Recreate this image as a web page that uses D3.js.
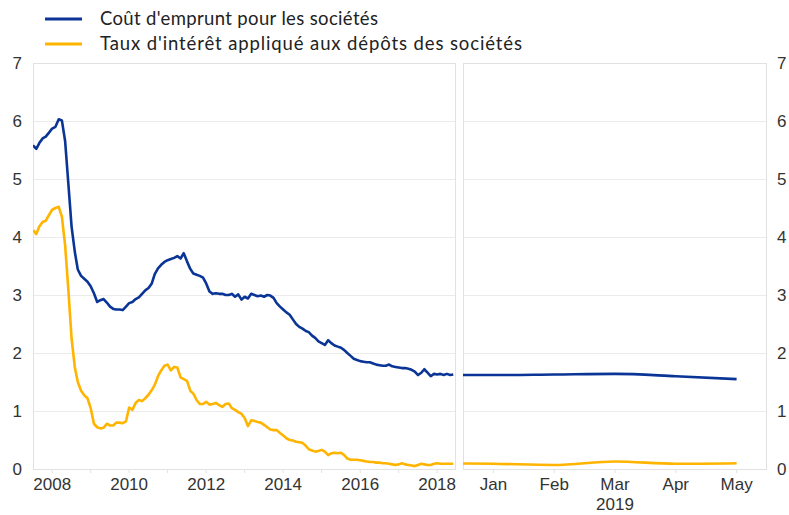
<!DOCTYPE html>
<html>
<head>
<meta charset="utf-8">
<script src="https://cdn.jsdelivr.net/npm/d3@7/dist/d3.min.js"></script>
<style>
  html, body { margin: 0; padding: 0; background: #fff; }
  svg { display: block; }
</style>
</head>
<body>
<svg id="chart" width="789" height="515"></svg>
<script>
// ---------------- DATA ----------------
const seriesNames = ["Coût d'emprunt pour les sociétés", "Taux d'intérêt appliqué aux dépôts des sociétés"];
const leftStart = "2008-01"; // monthly observations, Jan 2008 - Dec 2018
const blueLeft = [
  5.58, 5.52, 5.62, 5.70, 5.73, 5.80, 5.87, 5.90, 6.03, 6.01, 5.65, 4.93,
  4.18, 3.74, 3.44, 3.33, 3.28, 3.23, 3.15, 3.03, 2.88, 2.91, 2.93, 2.87,
  2.80, 2.76, 2.75, 2.75, 2.74, 2.80, 2.86, 2.88, 2.93, 2.96, 3.02, 3.08,
  3.12, 3.20, 3.36, 3.46, 3.52, 3.57, 3.60, 3.62, 3.64, 3.67, 3.63, 3.72,
  3.58, 3.45, 3.37, 3.35, 3.33, 3.30, 3.20, 3.06, 3.02, 3.03, 3.02, 3.02,
  3.00, 3.00, 3.02, 2.97, 3.01, 2.92, 2.97, 2.94, 3.02, 3.00, 2.98, 2.99,
  2.97, 3.00, 2.99, 2.95, 2.86, 2.80, 2.75, 2.70, 2.66, 2.58, 2.50, 2.45,
  2.42, 2.38, 2.36, 2.30, 2.26, 2.20, 2.17, 2.14, 2.22, 2.17, 2.13, 2.11,
  2.09, 2.05, 2.00, 1.95, 1.90, 1.88, 1.86, 1.85, 1.84, 1.84, 1.82, 1.80,
  1.79, 1.78, 1.78, 1.80, 1.77, 1.76, 1.75, 1.74, 1.74, 1.73, 1.71, 1.68,
  1.62, 1.66, 1.72, 1.66, 1.60, 1.64, 1.63, 1.64, 1.62, 1.64, 1.62, 1.63
];
const yellowLeft = [
  4.12, 4.05, 4.18, 4.26, 4.28, 4.38, 4.47, 4.50, 4.52, 4.35, 3.85, 3.10,
  2.25, 1.75, 1.50, 1.35, 1.27, 1.22, 1.05, 0.78, 0.72, 0.70, 0.71, 0.78,
  0.75, 0.75, 0.80, 0.80, 0.79, 0.82, 1.06, 1.02, 1.14, 1.19, 1.17, 1.22,
  1.28, 1.36, 1.45, 1.60, 1.70, 1.78, 1.80, 1.70, 1.76, 1.75, 1.58, 1.55,
  1.52, 1.35, 1.30, 1.19, 1.12, 1.12, 1.16, 1.11, 1.12, 1.14, 1.10, 1.07,
  1.12, 1.13, 1.05, 1.02, 0.98, 0.95, 0.88, 0.74, 0.84, 0.83, 0.81, 0.80,
  0.76, 0.72, 0.68, 0.67, 0.67, 0.62, 0.58, 0.53, 0.50, 0.49, 0.47, 0.46,
  0.45, 0.40, 0.34, 0.32, 0.30, 0.31, 0.33, 0.30, 0.24, 0.27, 0.28, 0.27,
  0.28, 0.24, 0.18, 0.16, 0.16, 0.16, 0.15, 0.14, 0.13, 0.12, 0.12, 0.11,
  0.11, 0.10, 0.10, 0.09, 0.08, 0.07, 0.08, 0.10, 0.08, 0.07, 0.06, 0.05,
  0.07, 0.09, 0.08, 0.07, 0.07, 0.09, 0.10, 0.09, 0.09, 0.09, 0.09, 0.09
];
const rightMonths = ["Dec", "Jan", "Feb", "Mar", "Apr", "May"]; // Dec 2018 - May 2019
const blueRight   = [1.62, 1.62, 1.63, 1.64, 1.60, 1.55];
const yellowRight = [0.10, 0.09, 0.07, 0.13, 0.09, 0.10];
const leftYearTicks = [2008, 2009, 2010, 2011, 2012, 2013, 2014, 2015, 2016, 2017, 2018];
const leftYearLabels = [2008, 2010, 2012, 2014, 2016, 2018];
const rightMonthLabels = ["Jan", "Feb", "Mar", "Apr", "May"];
const rightYearLabel = "2019";
const yTicks = [0, 1, 2, 3, 4, 5, 6, 7];
const colors = ["#0a3596", "#FFB400"];

// ---------------- LAYOUT ----------------
const svg = d3.select("#chart");
const yTop = 63, yBottom = 469;
const L = { x0: 33, x1: 456 };
const R = { x0: 463, x1: 767 };
const gridColor = "#ebebeb";
const frameColor = "#e2e2e2";
const textColor = "#333";
const tickFont = "Liberation Sans, Arial, sans-serif";
const tickSize = 17;

const y = d3.scaleLinear().domain([0, 7]).range([yBottom, yTop]);

const parseMonth = d3.timeParse("%Y-%m");
const start = parseMonth(leftStart);
const leftDates = blueLeft.map((_, i) => d3.timeMonth.offset(start, i));
const xL = d3.scaleTime()
  .domain([new Date(2008, 0, 1), new Date(2018, 11, 27)])
  .range([L.x0, L.x1]);
const xR = d3.scaleLinear().domain([0.5, 5.5]).range([R.x0, R.x1]);

// clip paths
const defs = svg.append("defs");
defs.append("clipPath").attr("id", "clipL").append("rect")
  .attr("x", L.x0).attr("y", yTop - 5).attr("width", L.x1 - L.x0).attr("height", yBottom - yTop + 10);
defs.append("clipPath").attr("id", "clipR").append("rect")
  .attr("x", R.x0).attr("y", yTop - 5).attr("width", R.x1 - R.x0).attr("height", yBottom - yTop + 10);

// gridlines
[L, R].forEach(p => {
  svg.append("g").selectAll("line").data(yTicks).join("line")
    .attr("x1", p.x0).attr("x2", p.x1)
    .attr("y1", d => y(d) + 0.5).attr("y2", d => y(d) + 0.5)
    .attr("stroke", gridColor).attr("stroke-width", 1);
  svg.append("rect")
    .attr("x", p.x0 + 0.5).attr("y", yTop + 0.5)
    .attr("width", p.x1 - p.x0 - 1).attr("height", yBottom - yTop)
    .attr("fill", "none").attr("stroke", frameColor).attr("stroke-width", 1);
});

// y-axis labels left and right
svg.append("g").selectAll("text").data(yTicks).join("text")
  .attr("x", 22).attr("y", d => y(d)).attr("dy", "0.36em")
  .attr("text-anchor", "end")
  .attr("font-family", tickFont).attr("font-size", tickSize).attr("fill", textColor)
  .text(d => d);
svg.append("g").selectAll("text").data(yTicks).join("text")
  .attr("x", 777).attr("y", d => y(d)).attr("dy", "0.36em")
  .attr("text-anchor", "start")
  .attr("font-family", tickFont).attr("font-size", tickSize).attr("fill", textColor)
  .text(d => d);

// left x ticks & labels (labels centred mid-year)
const midYear = yr => new Date(yr, 6, 1);
svg.append("g").selectAll("line").data(leftYearTicks).join("line")
  .attr("x1", d => xL(midYear(d))).attr("x2", d => xL(midYear(d)))
  .attr("y1", yBottom).attr("y2", yBottom + 4)
  .attr("stroke", frameColor);
svg.append("g").selectAll("text").data(leftYearLabels).join("text")
  .attr("x", d => xL(midYear(d))).attr("y", 490)
  .attr("text-anchor", "middle")
  .attr("font-family", tickFont).attr("font-size", tickSize).attr("fill", textColor)
  .text(d => d);

// right x ticks & labels
const monthIdx = m => rightMonths.indexOf(m);
svg.append("g").selectAll("line").data(rightMonthLabels).join("line")
  .attr("x1", d => xR(monthIdx(d))).attr("x2", d => xR(monthIdx(d)))
  .attr("y1", yBottom).attr("y2", yBottom + 4)
  .attr("stroke", frameColor);
svg.append("g").selectAll("text").data(rightMonthLabels).join("text")
  .attr("x", d => xR(monthIdx(d))).attr("y", 490)
  .attr("text-anchor", "middle")
  .attr("font-family", tickFont).attr("font-size", tickSize).attr("fill", textColor)
  .text(d => d);
svg.append("text")
  .attr("x", xR(monthIdx("Mar"))).attr("y", 510)
  .attr("text-anchor", "middle")
  .attr("font-family", tickFont).attr("font-size", tickSize).attr("fill", textColor)
  .text(rightYearLabel);

// lines
const lineL = d3.line().x((d, i) => xL(leftDates[i])).y(d => y(d));
const lineR = d3.line().x((d, i) => xR(i)).y(d => y(d)).curve(d3.curveMonotoneX);

const gL = svg.append("g").attr("clip-path", "url(#clipL)");
const gR = svg.append("g").attr("clip-path", "url(#clipR)");
[yellowLeft, blueLeft].forEach((s, k) => {
  gL.append("path").datum(s).attr("d", lineL)
    .attr("fill", "none").attr("stroke", colors[1 - k]).attr("stroke-width", 2.6)
    .attr("stroke-linejoin", "round");
});
[yellowRight, blueRight].forEach((s, k) => {
  gR.append("path").datum(s).attr("d", lineR)
    .attr("fill", "none").attr("stroke", colors[1 - k]).attr("stroke-width", 2.6)
    .attr("stroke-linejoin", "round");
});

// legend
const legendWidths = [278, 422];
const legend = svg.append("g");
seriesNames.forEach((name, i) => {
  const ly = 19 + i * 25;
  legend.append("line")
    .attr("x1", 45).attr("x2", 82).attr("y1", ly).attr("y2", ly)
    .attr("stroke", colors[i]).attr("stroke-width", 3);
  legend.append("text")
    .attr("x", 100).attr("y", ly).attr("dy", "0.35em")
    .attr("font-family", "Lato, 'Open Sans', sans-serif").attr("font-size", 18.5)
    .attr("textLength", legendWidths[i]).attr("lengthAdjust", "spacing")
    .attr("fill", "#222")
    .text(name);
});
</script>
</body>
</html>
